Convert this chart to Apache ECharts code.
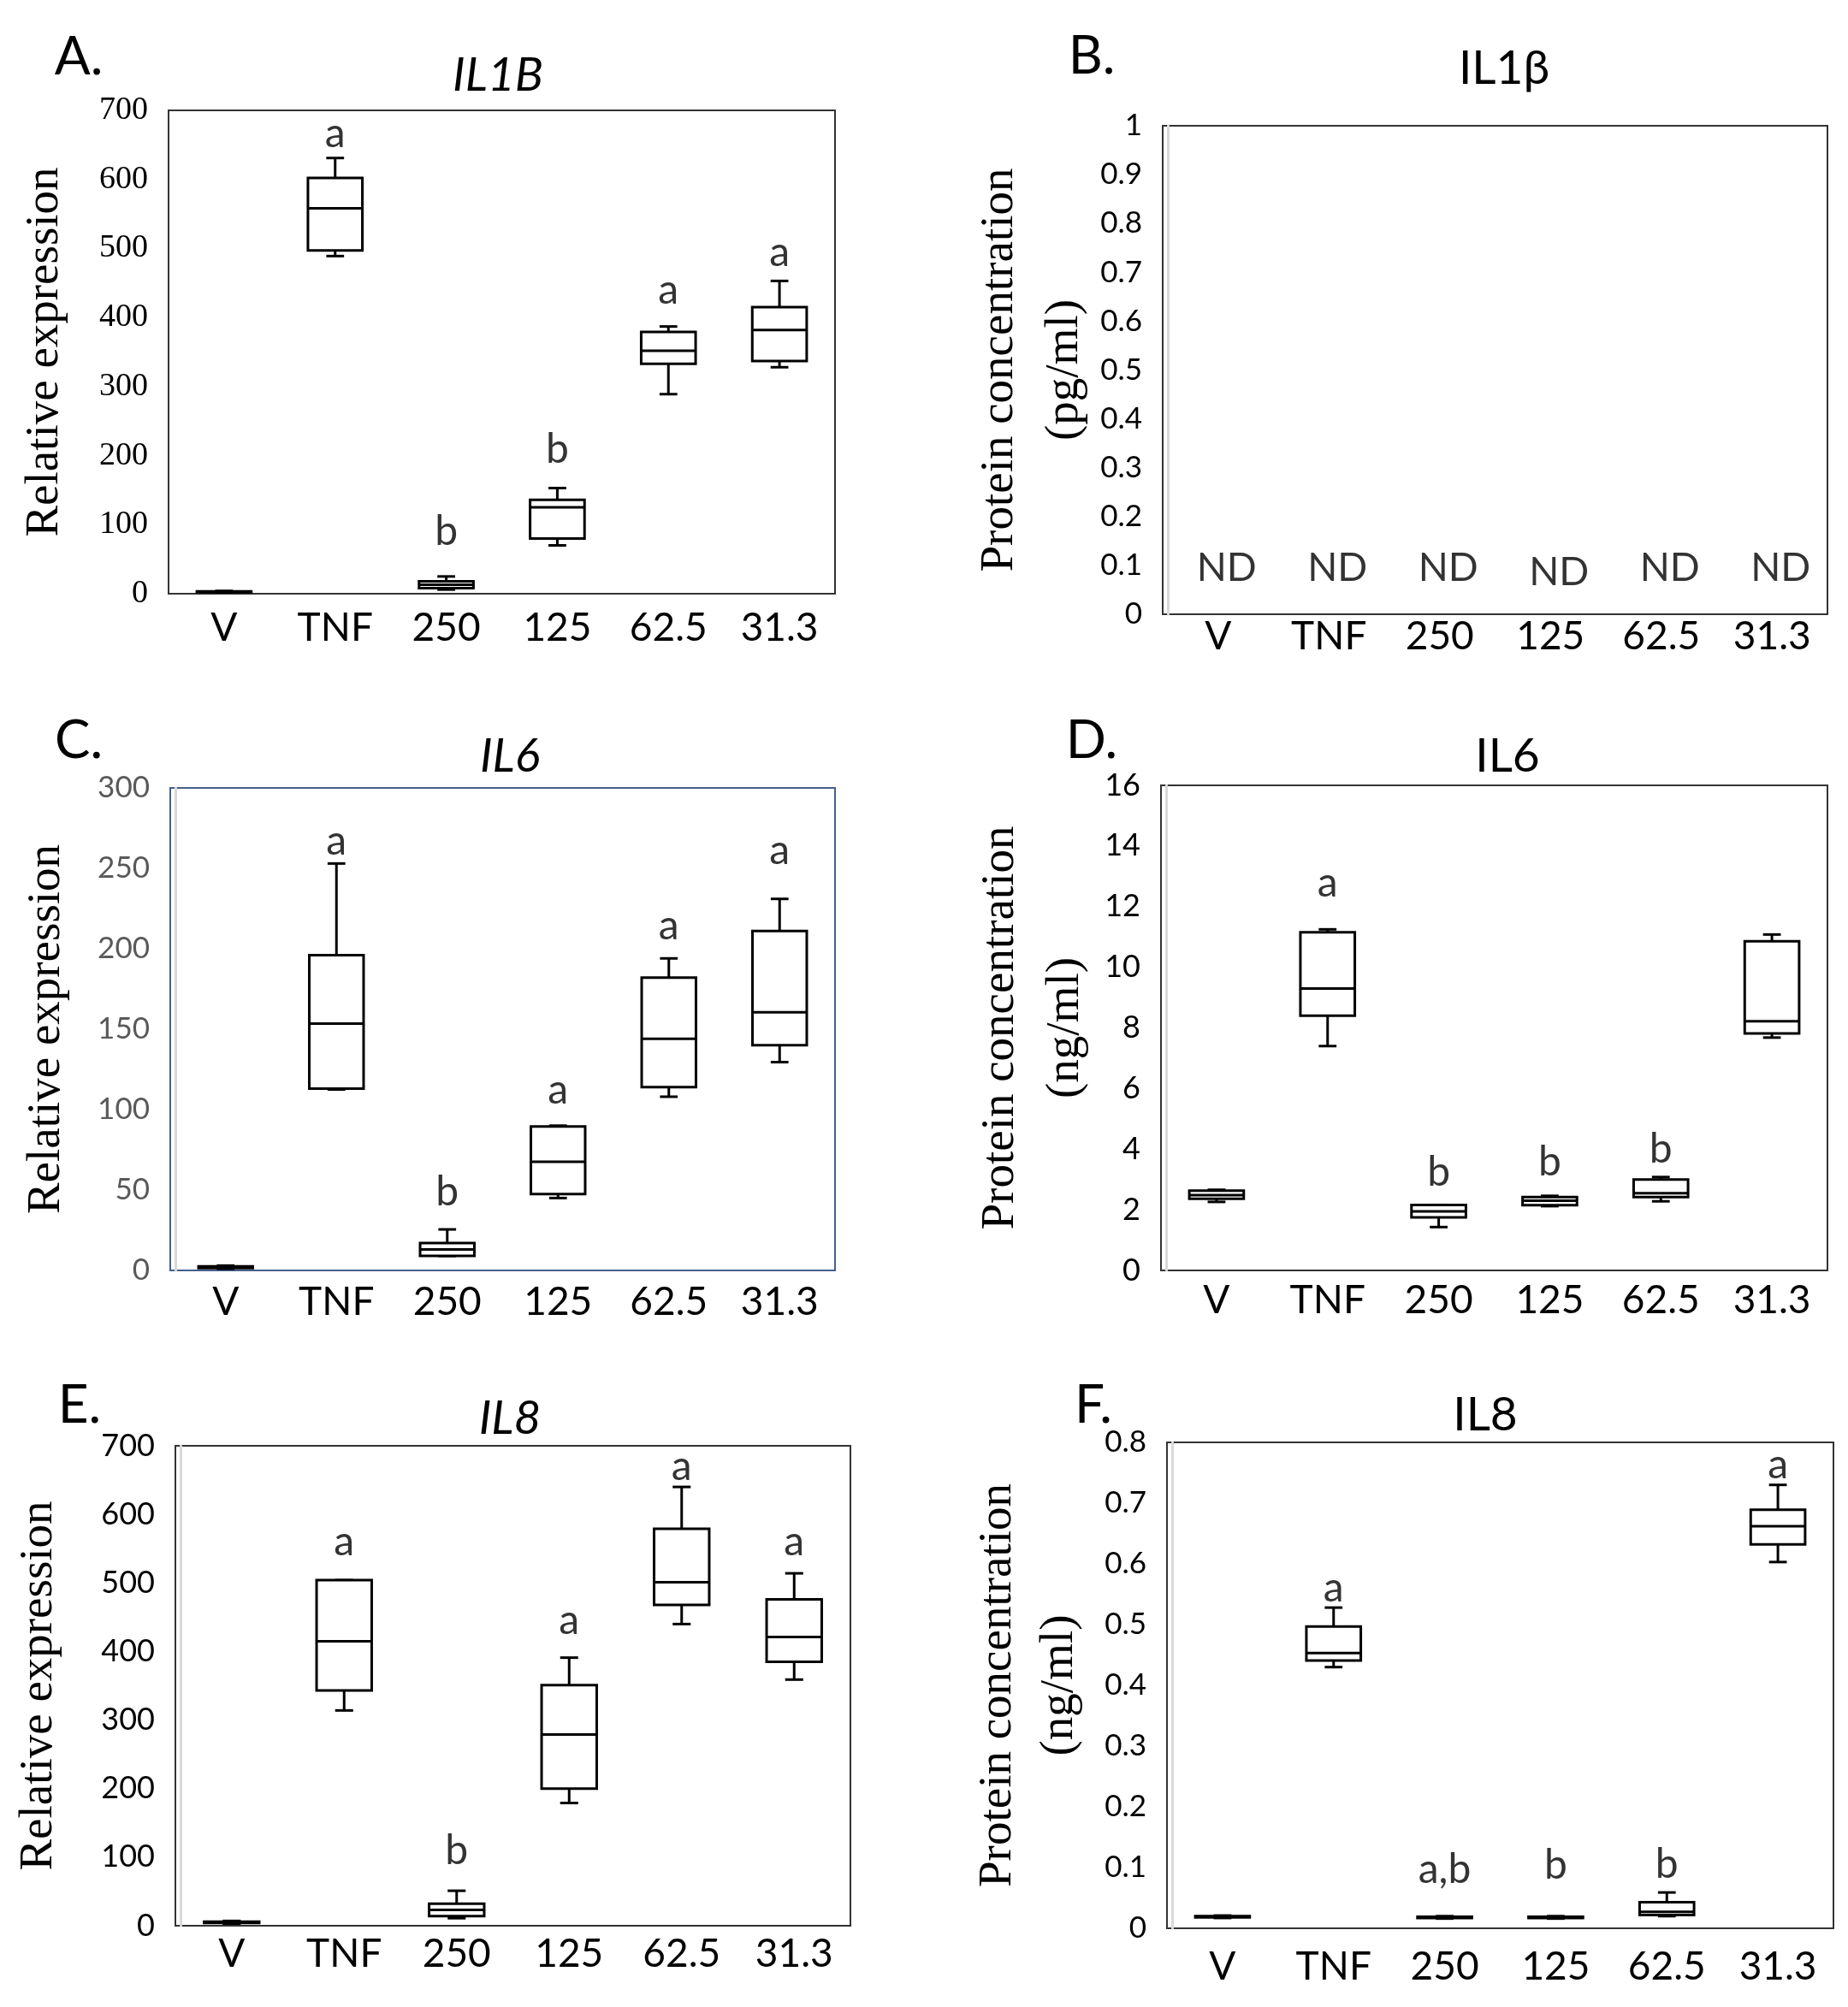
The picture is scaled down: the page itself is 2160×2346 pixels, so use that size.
<!DOCTYPE html>
<html><head><meta charset="utf-8">
<script src="https://cdn.jsdelivr.net/npm/echarts@6/dist/echarts.min.js"></script>
<style>html,body{margin:0;padding:0;background:#fff}#c{width:2160px;height:2346px}</style>
</head><body><div id="c"></div>
<script>
// ---------- data ----------
const categories = ['V', 'TNF', '250', '125', '62.5', '31.3'];

// each entry: [min, Q1, median, Q3, max]
const il1bExpression = [[2, 2.5, 3, 3.5, 4], [489, 497, 558, 602, 631], [6, 8, 13, 18, 25], [70, 80, 125, 136, 153], [289, 333, 352, 379, 387], [328, 337, 382, 415, 453]];
const il1bExpressionLetters = ['', 'a', 'b', 'b', 'a', 'a'];
const il1bExpressionLetterY = [null, 666, 90, 209, 439, 494];
const il1bExpressionTicks = [0, 100, 200, 300, 400, 500, 600, 700];

const il1bProtein = [];
const il1bProteinLetters = ['ND', 'ND', 'ND', 'ND', 'ND', 'ND'];
const il1bProteinLetterY = [0.095, 0.095, 0.095, 0.086, 0.095, 0.095];
const il1bProteinTicks = [0, 0.1, 0.2, 0.3, 0.4, 0.5, 0.6, 0.7, 0.8, 0.9, 1];

const il6Expression = [[1, 1.5, 2, 2.5, 3], [112.5, 113, 153.5, 196, 253], [9, 9, 13, 17, 25.5], [45, 47.5, 67.5, 89.5, 90], [108, 114, 144, 182, 194], [129.5, 140, 160.5, 211, 231]];
const il6ExpressionLetters = ['', 'a', 'b', 'a', 'a', 'a'];
const il6ExpressionLetterY = [null, 267, 48.5, 112, 214, 261];
const il6ExpressionTicks = [0, 50, 100, 150, 200, 250, 300];

const il6Protein = [[2.26, 2.36, 2.48, 2.63, 2.66], [7.4, 8.4, 9.3, 11.15, 11.25], [1.43, 1.75, 1.95, 2.16, 2.16], [2.12, 2.15, 2.3, 2.42, 2.46], [2.28, 2.42, 2.55, 3.0, 3.08], [7.68, 7.82, 8.22, 10.86, 11.08]];
const il6ProteinLetters = ['', 'a', 'b', 'b', 'b', ''];
const il6ProteinLetterY = [null, 12.78, 3.22, 3.56, 4.0, null];
const il6ProteinTicks = [0, 2, 4, 6, 8, 10, 12, 14, 16];

const il8Expression = [[3, 4, 5, 6, 7], [314, 343, 415, 504, 504], [11, 14, 23, 32, 51], [179, 200, 279, 351, 391], [440, 468, 501, 579, 640], [359, 385, 421, 476, 514]];
const il8ExpressionLetters = ['', 'a', 'b', 'a', 'a', 'a'];
const il8ExpressionLetterY = [null, 560, 109, 445, 670, 560];
const il8ExpressionTicks = [0, 100, 200, 300, 400, 500, 600, 700];

const il8Protein = [[0.017, 0.018, 0.019, 0.02, 0.021], [0.43, 0.441, 0.453, 0.497, 0.528], [0.016, 0.017, 0.018, 0.019, 0.02], [0.016, 0.017, 0.018, 0.019, 0.02], [0.02, 0.022, 0.027, 0.043, 0.059], [0.603, 0.632, 0.662, 0.689, 0.73]];
const il8ProteinLetters = ['', 'a', 'a,b', 'b', 'b', 'a'];
const il8ProteinLetterY = [null, 0.56, 0.096, 0.104, 0.105, 0.762];
const il8ProteinTicks = [0, 0.1, 0.2, 0.3, 0.4, 0.5, 0.6, 0.7, 0.8];

// ---------- layout / style ----------
const SANS = 'Lato, "Open Sans", sans-serif';
const SERIF = '"Liberation Serif", "DejaVu Serif", serif';

const panels = [
  { letter: 'A.', title: 'IL1B', italic: true, letterPos: [92, 67], titlePos: [582, 88],
    grid: { left: 197, top: 129, width: 779, height: 565 }, border: '#333',
    boxes: il1bExpression, letters: il1bExpressionLetters, letterY: il1bExpressionLetterY, ticks: il1bExpressionTicks,
    yName: 'Relative expression', nameGap: 117, nameLH: 55, tickFont: SERIF, tickColor: '#000', tickSize: 38,
    xMargin: 17, innerLine: false },
  { letter: 'B.', title: 'IL1\u03b2', italic: false, letterPos: [1276, 66], titlePos: [1758, 80],
    grid: { left: 1359, top: 147, width: 777, height: 571 }, border: '#333',
    boxes: il1bProtein, letters: il1bProteinLetters, letterY: il1bProteinLetterY, ticks: il1bProteinTicks,
    yName: 'Protein concentration\n(pg/ml)', nameGap: 81, nameLH: 76, tickFont: SANS, tickColor: '#000', tickSize: 35,
    xMargin: 3, innerLine: true, letterDx: 10 },
  { letter: 'C.', title: 'IL6', italic: true, letterPos: [92, 866], titlePos: [596, 884],
    grid: { left: 199, top: 921, width: 777, height: 564 }, border: '#44618b',
    boxes: il6Expression, letters: il6ExpressionLetters, letterY: il6ExpressionLetterY, ticks: il6ExpressionTicks,
    yName: 'Relative expression', nameGap: 123, nameLH: 55, tickFont: SANS, tickColor: '#595959', tickSize: 35,
    xMargin: 14, innerLine: true },
  { letter: 'D.', title: 'IL6', italic: false, letterPos: [1276, 866], titlePos: [1762, 884],
    grid: { left: 1357, top: 918, width: 779, height: 567 }, border: '#333',
    boxes: il6Protein, letters: il6ProteinLetters, letterY: il6ProteinLetterY, ticks: il6ProteinTicks,
    yName: 'Protein concentration\n(ng/ml)', nameGap: 79, nameLH: 76, tickFont: SANS, tickColor: '#000', tickSize: 36,
    xMargin: 12, innerLine: true },
  { letter: 'E.', title: 'IL8', italic: true, letterPos: [93, 1643], titlePos: [596, 1658],
    grid: { left: 205, top: 1690, width: 789, height: 561 }, border: '#333',
    boxes: il8Expression, letters: il8ExpressionLetters, letterY: il8ExpressionLetterY, ticks: il8ExpressionTicks,
    yName: 'Relative expression', nameGap: 138, nameLH: 55, tickFont: SANS, tickColor: '#000', tickSize: 36,
    xMargin: 10, innerLine: true },
  { letter: 'F.', title: 'IL8', italic: false, letterPos: [1278, 1643], titlePos: [1736, 1654],
    grid: { left: 1364, top: 1686, width: 779, height: 568 }, border: '#333',
    boxes: il8Protein, letters: il8ProteinLetters, letterY: il8ProteinLetterY, ticks: il8ProteinTicks,
    yName: 'Protein concentration\n(ng/ml)', nameGap: 95, nameLH: 72, tickFont: SANS, tickColor: '#000', tickSize: 35,
    xMargin: 22, innerLine: true }
];

function renderBox(params, api) {
  const xi = api.value(0);
  const v = [1, 2, 3, 4, 5].map(i => api.value(i));
  const pt = val => api.coord([xi, val]);
  const band = api.size([1, 0])[0];
  const half = band * 0.245, capHalf = band * 0.08;
  const cx = pt(v[2])[0];
  const yMin = pt(v[0])[1], yQ1 = pt(v[1])[1], yMed = pt(v[2])[1], yQ3 = pt(v[3])[1], yMax = pt(v[4])[1];
  const ls = { stroke: '#000', lineWidth: 3, fill: null };
  return { type: 'group', children: [
    { type: 'line', shape: { x1: cx, y1: yQ3, x2: cx, y2: yMax }, style: ls },
    { type: 'line', shape: { x1: cx, y1: yQ1, x2: cx, y2: yMin }, style: ls },
    { type: 'line', shape: { x1: cx - capHalf, y1: yMax, x2: cx + capHalf, y2: yMax }, style: ls },
    { type: 'line', shape: { x1: cx - capHalf, y1: yMin, x2: cx + capHalf, y2: yMin }, style: ls },
    { type: 'rect', shape: { x: cx - half, y: yQ3, width: 2 * half, height: Math.max(yQ1 - yQ3, 1) }, style: { stroke: '#000', lineWidth: 3, fill: '#fff' } },
    { type: 'line', shape: { x1: cx - half, y1: yMed, x2: cx + half, y2: yMed }, style: ls }
  ]};
}

const grids = [], xAxes = [], yAxes = [], series = [], graphics = [];
panels.forEach((p, k) => {
  grids.push(Object.assign({ show: true, borderColor: p.border, borderWidth: 2, backgroundColor: '#fff' }, p.grid));
  xAxes.push({
    type: 'category', gridIndex: k, data: categories,
    axisLine: { show: false }, axisTick: { show: false },
    axisLabel: { fontFamily: SANS, fontSize: 46, color: '#000', margin: p.xMargin }
  });
  const t = p.ticks;
  yAxes.push({
    type: 'value', gridIndex: k, min: t[0], max: t[t.length - 1], interval: t[1] - t[0],
    offset: p.innerLine ? -6 : 0,
    axisLine: { show: p.innerLine, lineStyle: { color: '#d9d9d9', width: 3 } },
    axisTick: { show: false }, splitLine: { show: false },
    axisLabel: { fontFamily: p.tickFont, fontSize: p.tickSize, color: p.tickColor, margin: p.innerLine ? 30 : 24 },
    name: p.yName, nameLocation: 'middle', nameGap: p.nameGap, nameRotate: 90,
    nameTextStyle: { fontFamily: SERIF, fontSize: 55, color: '#000', lineHeight: p.nameLH }
  });
  if (p.boxes.length) {
    series.push({
      type: 'custom', xAxisIndex: k, yAxisIndex: k, silent: true,
      renderItem: renderBox,
      encode: { x: 0, y: [1, 2, 3, 4, 5] },
      data: p.boxes.map((b, i) => [i].concat(b)),
      z: 2
    });
  }
  const lab = [];
  p.letters.forEach((s, i) => { if (s) lab.push({ name: s, value: [i, p.letterY[i]] }); });
  series.push({
    type: 'scatter', xAxisIndex: k, yAxisIndex: k, silent: true,
    symbolSize: 1, itemStyle: { color: 'rgba(0,0,0,0)' },
    data: lab,
    label: { show: true, position: 'inside', formatter: '{b}', fontFamily: SANS, fontSize: p.letters[0] === 'ND' ? 46 : 48, color: '#000',
      offset: [p.letterDx || 0, 0] },
    z: 3
  });
  graphics.push({
    type: 'text', x: p.letterPos[0], y: p.letterPos[1],
    style: { text: p.letter, font: '62px ' + SANS, fill: '#000', textAlign: 'center', textVerticalAlign: 'middle', align: 'center', verticalAlign: 'middle' }
  });
  graphics.push({
    type: 'text', x: p.titlePos[0], y: p.titlePos[1],
    style: { text: p.title, font: (p.italic ? 'italic ' : '') + '55px ' + SANS, fill: '#000', textAlign: 'center', textVerticalAlign: 'middle', align: 'center', verticalAlign: 'middle' }
  });
});

const chart = echarts.init(document.getElementById('c'), null, { renderer: 'canvas' });
chart.setOption({
  backgroundColor: '#fff',
  animation: false,
  grid: grids, xAxis: xAxes, yAxis: yAxes, series: series, graphic: graphics
});
</script></body></html>
